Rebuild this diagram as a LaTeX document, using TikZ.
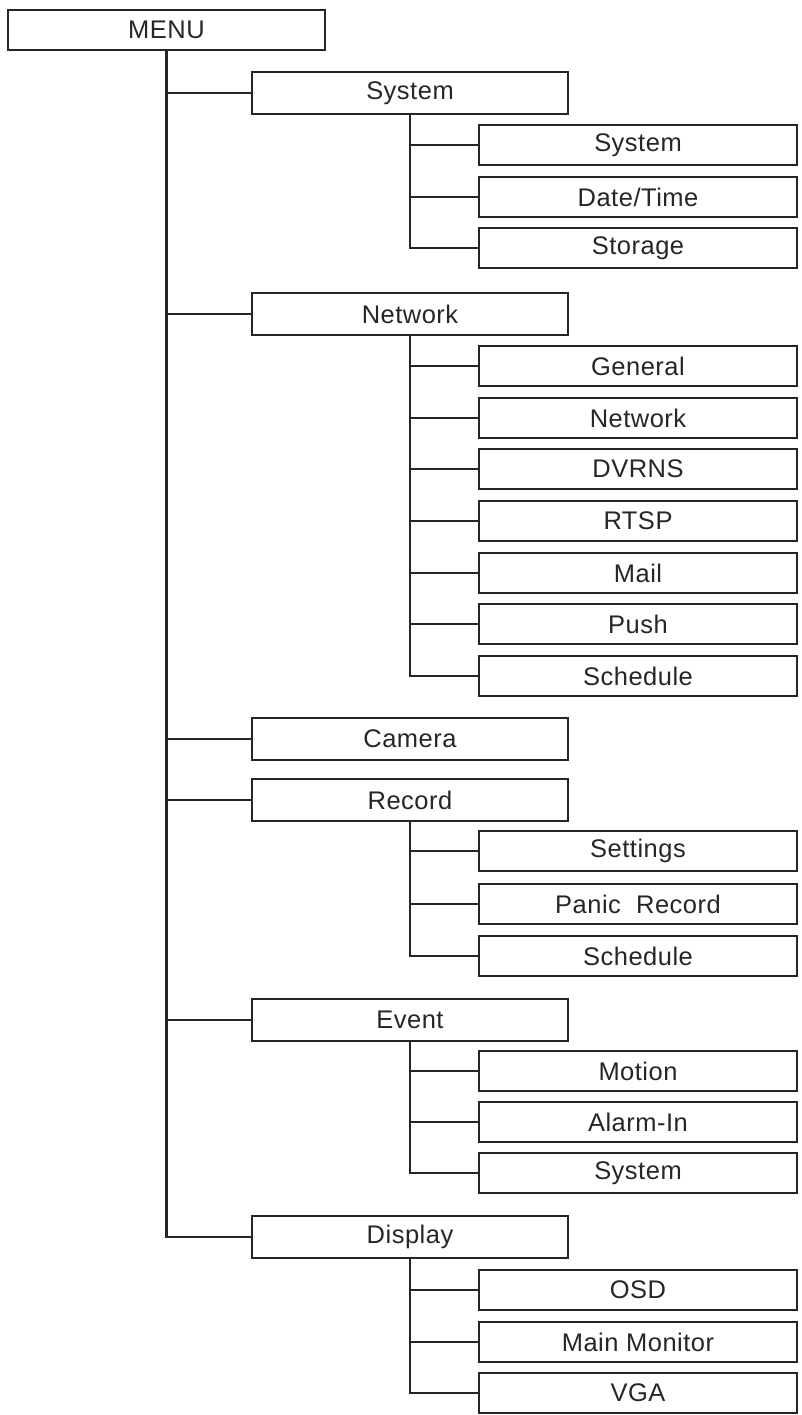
\documentclass[tikz,border=0pt]{standalone}
\usepackage{fontspec}
\setmainfont{Liberation Sans}[LetterSpace=2]
\usetikzlibrary{positioning}

\begin{document}
\begin{tikzpicture}[
  x=0.02cm,y=-0.02cm,
  line width=1.3pt,
  box/.style={draw=black!85,line width=1.3pt,inner sep=0pt,text=black!85,minimum width=6.32cm,minimum height=8.3mm,font=\fontsize{14.5}{17}\selectfont},
  item/.style={box,minimum width=6.36cm,minimum height=8.1mm},
  link/.style={draw=black!85,line width=1.3pt}
]
  \useasboundingbox (0,0) rectangle (801,1415);

  \node[box,minimum width=6.34cm,minimum height=8mm] (menu) at (166.5,30) {MENU};

  \node[box] (system) at (410,93) {System};
  \node[item] (sysmain) at (638,145) {System};
  \node[item] (datetime) at (638,197) {Date/Time};
  \node[item] (storage) at (638,248) {Storage};

  \node[box] (network) at (410,314) {Network};
  \node[item] (general) at (638,366) {General};
  \node[item] (netmain) at (638,418) {Network};
  \node[item] (dvrns) at (638,469) {DVRNS};
  \node[item] (rtsp) at (638,521) {RTSP};
  \node[item] (mail) at (638,573) {Mail};
  \node[item] (push) at (638,624) {Push};
  \node[item] (netsched) at (638,676) {Schedule};

  \node[box] (camera) at (410,739) {Camera};

  \node[box] (record) at (410,800) {Record};
  \node[item] (settings) at (638,851) {Settings};
  \node[item] (panic) at (638,904) {Panic~ Record};
  \node[item] (recsched) at (638,956) {Schedule};

  \node[box] (event) at (410,1020) {Event};
  \node[item] (motion) at (638,1071) {Motion};
  \node[item] (alarmin) at (638,1122) {Alarm-In};
  \node[item] (evtsys) at (638,1173) {System};

  \node[box] (display) at (410,1237) {Display};
  \node[item] (osd) at (638,1290) {OSD};
  \node[item] (mainmon) at (638,1342) {Main Monitor};
  \node[item] (vga) at (638,1393) {VGA};

  % main branch
  \draw[link] (menu.south) |- (display.west);
  \draw[link] (menu.south |- system.west) -- (system.west);
  \draw[link] (menu.south |- network.west) -- (network.west);
  \draw[link] (menu.south |- camera.west) -- (camera.west);
  \draw[link] (menu.south |- record.west) -- (record.west);
  \draw[link] (menu.south |- event.west) -- (event.west);

  % sub branches
  \draw[link] (system.south) |- (storage.west);
  \draw[link] (system.south |- sysmain.west) -- (sysmain.west);
  \draw[link] (system.south |- datetime.west) -- (datetime.west);

  \draw[link] (network.south) |- (netsched.west);
  \draw[link] (network.south |- general.west) -- (general.west);
  \draw[link] (network.south |- netmain.west) -- (netmain.west);
  \draw[link] (network.south |- dvrns.west) -- (dvrns.west);
  \draw[link] (network.south |- rtsp.west) -- (rtsp.west);
  \draw[link] (network.south |- mail.west) -- (mail.west);
  \draw[link] (network.south |- push.west) -- (push.west);

  \draw[link] (record.south) |- (recsched.west);
  \draw[link] (record.south |- settings.west) -- (settings.west);
  \draw[link] (record.south |- panic.west) -- (panic.west);

  \draw[link] (event.south) |- (evtsys.west);
  \draw[link] (event.south |- motion.west) -- (motion.west);
  \draw[link] (event.south |- alarmin.west) -- (alarmin.west);

  \draw[link] (display.south) |- (vga.west);
  \draw[link] (display.south |- osd.west) -- (osd.west);
  \draw[link] (display.south |- mainmon.west) -- (mainmon.west);
\end{tikzpicture}
\end{document}
